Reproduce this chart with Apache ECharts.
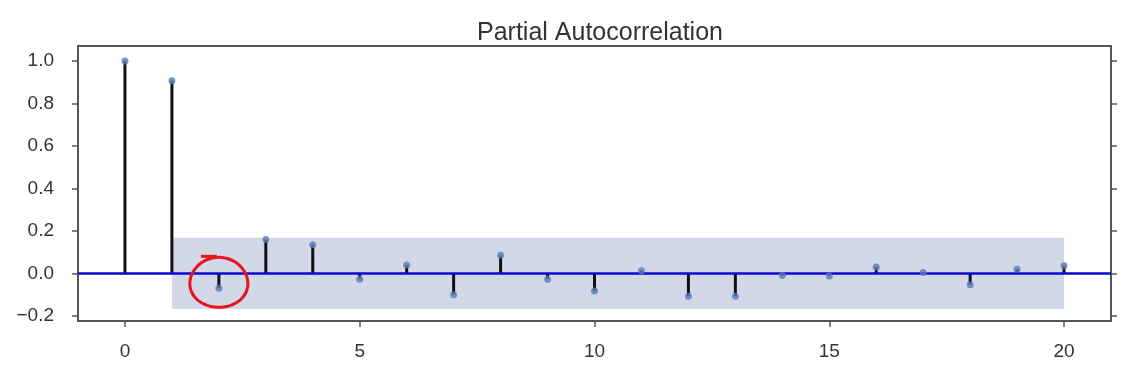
<!DOCTYPE html>
<html>
<head>
<meta charset="utf-8">
<script src="https://cdn.jsdelivr.net/npm/echarts@6/dist/echarts.min.js"></script>
<style>html,body{margin:0;padding:0;background:#fff;}#c{width:1136px;height:369px;}</style>
</head>
<body>
<div id="c"></div>
<script>
const lags = [0,1,2,3,4,5,6,7,8,9,10,11,12,13,14,15,16,17,18,19,20];
const pacf = [1.0,0.907,-0.07,0.159,0.135,-0.028,0.04,-0.1,0.085,-0.027,-0.083,0.013,-0.108,-0.108,-0.01,-0.012,0.03,0.004,-0.054,0.02,0.036];
const confBound = 0.168;
const bandStart = 1, bandEnd = 20;
const xTicks = [0,5,10,15,20];
const yTicks = [-0.2,0.0,0.2,0.4,0.6,0.8,1.0];
const highlightLag = 2, highlightVal = -0.042;

const pts = lags.map((l,i)=>[l,pacf[i]]);
const fmtY = v => (v < 0 ? '\u2212' : '') + Math.abs(v).toFixed(1);
const font = 'Liberation Sans, Arial, sans-serif';
const axisCol = '#555';

const chart = echarts.init(document.getElementById('c'));
chart.setOption({
  animation:false,
  backgroundColor:'#fff',
  title:{text:'Partial Autocorrelation',left:595,textAlign:'center',top:16,
    textStyle:{fontFamily:font,fontSize:25,fontWeight:'normal',color:'#333'}},
  grid:{left:78,right:25,top:46,bottom:48,show:true,borderColor:axisCol,borderWidth:2},
  xAxis:{type:'value',min:-1,max:21,
    axisLine:{show:true,onZero:false,lineStyle:{color:axisCol,width:2}},
    axisTick:{show:true,length:6,lineStyle:{color:axisCol,width:1.5},customValues:xTicks},
    axisLabel:{customValues:xTicks,margin:21,fontFamily:font,fontSize:19,color:'#333'},
    splitLine:{show:false}},
  yAxis:[{type:'value',min:-0.224,max:1.07,
    axisLine:{show:true,onZero:false,lineStyle:{color:axisCol,width:2}},
    axisTick:{show:true,length:6,lineStyle:{color:axisCol,width:1.5},customValues:yTicks},
    axisLabel:{customValues:yTicks,formatter:fmtY,margin:24,fontFamily:font,fontSize:19,color:'#333'},
    splitLine:{show:false}},
    {type:'value',min:-0.224,max:1.07,position:'right',
    axisLine:{show:true,onZero:false,lineStyle:{color:axisCol,width:2}},
    axisTick:{show:true,length:6,lineStyle:{color:axisCol,width:1.5},customValues:yTicks},
    axisLabel:{show:false},splitLine:{show:false}}],
  series:[
    {type:'bar',data:pts,barWidth:3,itemStyle:{color:'#111'},z:3,
     markArea:{silent:true,itemStyle:{color:'#d3d8e8'},
       data:[[{coord:[bandStart,-confBound]},{coord:[bandEnd,confBound]}]]}},
    {type:'scatter',data:pts,symbolSize:7,itemStyle:{color:'#5b7db5'},z:5,
     markLine:{silent:true,symbol:'none',label:{show:false},
       lineStyle:{color:'#0a0ad2',width:2.5,type:'solid'},data:[{yAxis:0}]}},
    {type:'custom',data:[[highlightLag,highlightVal]],z:6,silent:true,
     renderItem:function(params,api){
       const c = api.coord([api.value(0),api.value(1)]);
       const rx=29, ry=25, n=60, p=[];
       for(let k=0;k<=n;k++){const a=k/n*Math.PI*2; p.push([c[0]+rx*Math.cos(a)*(1+0.05*Math.sin(a)), c[1]+ry*Math.sin(a)]);}
       return {type:'group',children:[
         {type:'polyline',shape:{points:p,smooth:0.3},style:{stroke:'#e8141c',lineWidth:3,fill:null}},
         {type:'line',shape:{x1:c[0]-18,y1:c[1]-26,x2:c[0]-2,y2:c[1]-26},style:{stroke:'#e8141c',lineWidth:3}}
       ]};
     }}
  ]
});
</script>
</body>
</html>
